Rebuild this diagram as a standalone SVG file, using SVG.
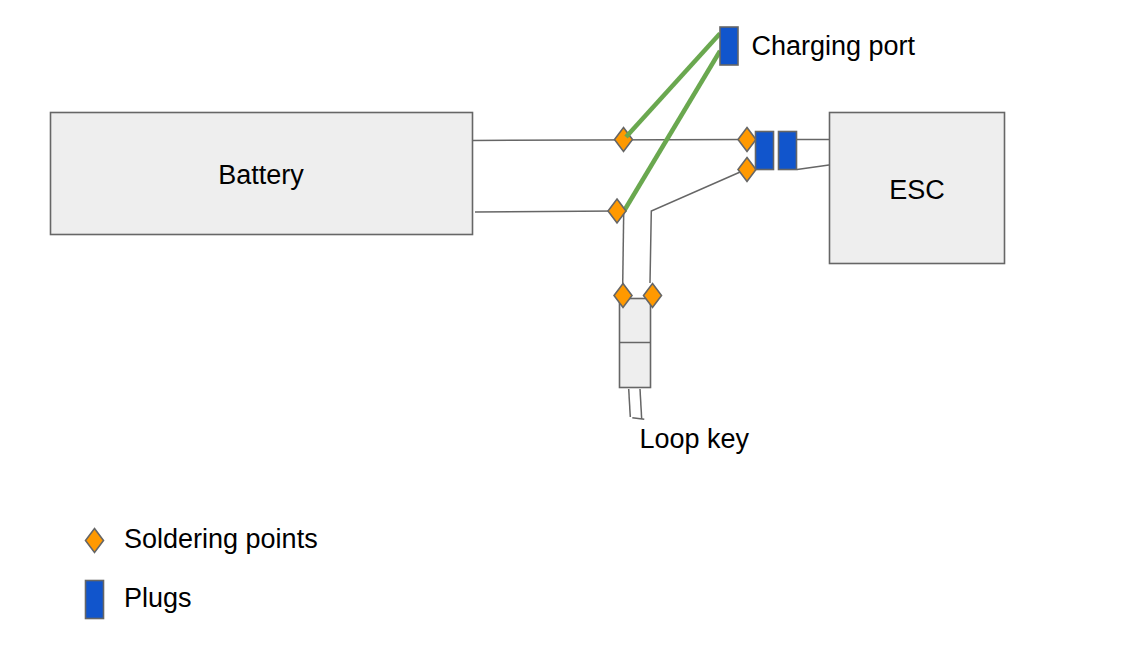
<svg xmlns="http://www.w3.org/2000/svg" width="1127" height="653" viewBox="0 0 1127 653">
<style>
.box{fill:#eeeeee;stroke:#666666;stroke-width:1.6}
.plug{fill:#1155cc;stroke:#666666;stroke-width:1.6}
.solder{fill:#ff9900;stroke:#666666;stroke-width:1.6}
.wire{fill:none;stroke:#666666;stroke-width:1.5}
.green{fill:none;stroke:#6aa84f;stroke-width:4.5}
text{font-family:"Liberation Sans",Arial,sans-serif;font-size:27px;fill:#000000}
</style>
<rect width="1127" height="653" fill="#ffffff"/>
<g id="battery"><rect class="box" x="50.500" y="112.500" width="422" height="122"/><text x="261" y="183.500" text-anchor="middle">Battery</text></g>
<g id="esc"><rect class="box" x="829.500" y="112.500" width="175" height="151"/><text x="917" y="198.500" text-anchor="middle">ESC</text></g>
<g id="connectors">
<path class="wire" d="M472 140.500 L746 139.500"/>
<path class="wire" d="M797 139.500 H829"/>
<path class="wire" d="M797 169.500 L829 165"/>
<path class="wire" d="M475 212 L617 211"/>
<path class="wire" d="M623.700 213 L622.700 285"/>
<path class="wire" d="M650 283 L651.300 211 L747 169"/>
<path class="wire" d="M628.700 389 L630.300 417"/>
<path class="wire" d="M640 389 L641.700 419"/>
<path class="wire" d="M632.300 417.700 L644.300 419.300"/>
<path class="green" d="M624 211 L720 51"/>
</g>
<g id="loop-key"><rect class="box" x="619.500" y="298.500" width="31" height="89"/><path class="wire" d="M619.500 342.500 H650.500"/><text x="639.500" y="447.500">Loop key</text></g>
<g id="solder-1"><path class="solder" d="M623.500 127.500 L632.500 139.500 L623.500 151.500 L614.500 139.500 Z"/></g>
<g id="solder-2"><path class="solder" d="M617 199 L626 211 L617 223 L608 211 Z"/></g>
<g id="solder-3"><path class="solder" d="M747 127.500 L756 139.500 L747 151.500 L738 139.500 Z"/></g>
<g id="solder-4"><path class="solder" d="M747 157.500 L756 169.500 L747 181.500 L738 169.500 Z"/></g>
<g id="solder-5"><path class="solder" d="M623 283.500 L632 295.500 L623 307.500 L614 295.500 Z"/></g>
<g id="solder-6"><path class="solder" d="M652.500 283.500 L661.500 295.500 L652.500 307.500 L643.500 295.500 Z"/></g>
<g id="green-wire"><path class="green" d="M626 137 L720 33.500"/></g>
<g id="charging-port"><rect class="plug" x="720" y="27" width="18" height="38"/><text x="751.500" y="54.500">Charging port</text></g>
<g id="plug-1"><rect class="plug" x="755.500" y="131.500" width="18" height="38"/></g>
<g id="plug-2"><rect class="plug" x="778.500" y="131.500" width="18" height="38"/></g>
<g id="legend-solder"><path class="solder" d="M94.500 528.500 L103.500 540.500 L94.500 552.500 L85.500 540.500 Z"/><text x="124" y="547.500">Soldering points</text></g>
<g id="legend-plugs"><rect class="plug" x="85.500" y="580.500" width="18" height="38"/><text x="124" y="606.500">Plugs</text></g>
</svg>
